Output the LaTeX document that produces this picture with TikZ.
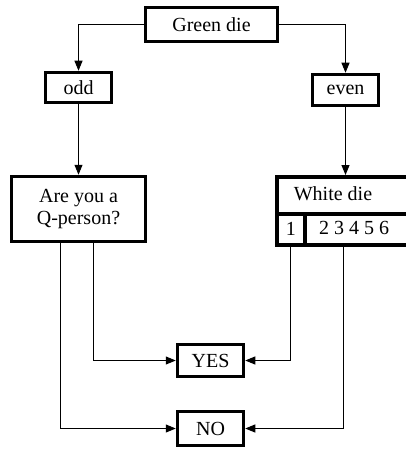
\documentclass[tikz,border=0pt]{standalone}
\usepackage{fontspec}
\setmainfont{Liberation Serif}
\usetikzlibrary{arrows.meta}
\begin{document}
\begin{tikzpicture}[x=1pt,y=-1pt,
  txt/.style={font=\fontsize{20}{22}\selectfont},
  box/.style={draw,line width=3.5pt,inner sep=0pt,txt,align=center},
  cell/.style={draw,line width=3.5pt,inner sep=0pt,txt},
  link/.style={line width=1pt,-{Triangle[length=10pt,width=8pt]}}]
\clip (0,0) rectangle (406,449);
\useasboundingbox (0,0) rectangle (406,449);
% decision boxes
\node[box,minimum width=132pt,minimum height=34pt] (green) at (211.5,24.5) {Green die};
\node[box,minimum width=66pt,minimum height=30pt] (odd) at (78.5,87.5) {odd};
\node[box,minimum width=66pt,minimum height=31pt] (even) at (345.5,90) {even};
\node[box,minimum width=134pt,minimum height=65pt] (q) at (78.5,209) {Are you a\\Q-person?};
% white die table (runs off the right edge)
\node[cell,minimum width=150pt,minimum height=37pt,anchor=north west] (wtop) at (275,175) {};
\node[txt] (wlabel) at (333,193.5) {White die};
\node[cell,minimum width=28pt,minimum height=31pt,anchor=north west] (wone) at (275,212) {1};
\node[cell,minimum width=122pt,minimum height=31pt,anchor=north west] (wrest) at (303,212) {};
\node[txt] (wnums) at (354,227.5) {2 3 4 5 6};
% outcomes
\node[box,minimum width=66pt,minimum height=32pt] (yes) at (210.5,360.5) {YES};
\node[box,minimum width=66pt,minimum height=34pt] (no) at (210.5,428.5) {NO};
% connectors
\draw[link] (green.west) -| (odd.north);
\draw[link] (green.east) -| (even.north);
\draw[link] (odd.south) -- (q.north);
\draw[link] (even.south) -- (even.south |- wtop.north);
\draw[link] ([xshift=-18.5pt]q.south) |- (no.west);
\draw[link] ([xshift=14.5pt]q.south) |- (yes.west);
\draw[link] (wone.south) |- (yes.east);
\draw[link] (wrest.south -| 343,0) |- (no.east);
\end{tikzpicture}
\end{document}
